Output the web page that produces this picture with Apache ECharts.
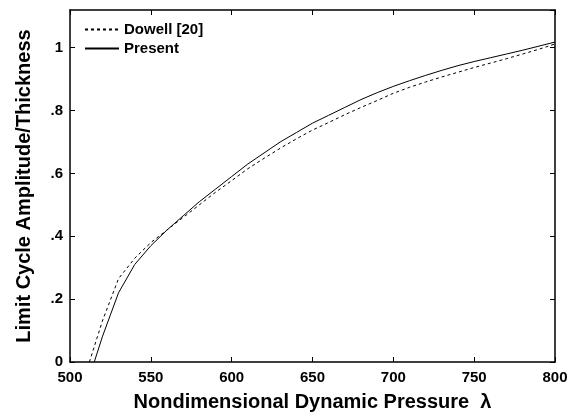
<!DOCTYPE html>
<html>
<head>
<meta charset="utf-8">
<script src="https://cdn.jsdelivr.net/npm/echarts@6/dist/echarts.min.js"></script>
<style>html,body{margin:0;padding:0;background:#fff}#c{width:577px;height:417px}</style>
</head>
<body>
<div id="c"></div>
<script>
const xTicks = [500, 550, 600, 650, 700, 750, 800];
const yTicks = [0, 0.2, 0.4, 0.6, 0.8, 1];

const presentX = [515, 520, 525, 530, 540, 550, 560, 570, 580, 590, 600, 610, 620, 630, 640, 650, 660, 670, 680, 690, 700, 710, 720, 730, 740, 750, 760, 770, 780, 790, 800];
const presentY = [0, 0.08, 0.15, 0.22, 0.31, 0.37, 0.42, 0.465, 0.51, 0.55, 0.59, 0.63, 0.665, 0.70, 0.73, 0.76, 0.785, 0.81, 0.835, 0.857, 0.877, 0.895, 0.912, 0.928, 0.943, 0.956, 0.968, 0.98, 0.992, 1.005, 1.018];

const dowellX = [512, 520, 530, 540, 550, 560, 570, 580, 590, 600, 610, 620, 630, 640, 650, 660, 670, 680, 690, 700, 710, 720, 730, 740, 750, 760, 770, 780, 790, 800];
const dowellY = [0, 0.13, 0.265, 0.33, 0.38, 0.42, 0.46, 0.50, 0.54, 0.577, 0.615, 0.648, 0.68, 0.71, 0.738, 0.762, 0.787, 0.81, 0.832, 0.855, 0.874, 0.891, 0.907, 0.922, 0.937, 0.951, 0.965, 0.98, 0.995, 1.012];

const zip = (xs, ys) => xs.map((x, i) => [x, ys[i]]);
const font = 'Liberation Sans, Arial, sans-serif';

function yFmt(v) {
  if (!yTicks.some(t => Math.abs(t - v) < 1e-6)) return '';
  const r = Math.round(v * 10) / 10;
  if (r === 0) return '0';
  if (r === 1) return '1';
  return String(r).replace('0.', '.');
}

const chart = echarts.init(document.getElementById('c'));
chart.setOption({
  animation: false,
  backgroundColor: '#fff',
  grid: { left: 70, right: 22, top: 10, bottom: 51 },
  legend: {
    orient: 'vertical', left: 79, top: 17,
    itemWidth: 34, itemHeight: 14, itemGap: 4,
    itemStyle: { opacity: 0 },
    textStyle: { fontFamily: font, fontWeight: 'bold', fontSize: 15, color: '#000' },
    data: ['Dowell [20]', 'Present']
  },
  xAxis: [{
    type: 'value', min: 500, max: 800, interval: 50,
    name: 'Nondimensional Dynamic Pressure  λ', nameLocation: 'middle', nameGap: 30,
    nameTextStyle: { fontFamily: font, fontWeight: 'bold', fontSize: 20, color: '#000' },
    axisLine: { show: true, onZero: false, lineStyle: { color: '#000', width: 1.5 } },
    axisTick: { show: true, inside: true, length: 5, lineStyle: { color: '#000' } },
    axisLabel: { fontFamily: font, fontWeight: 'bold', fontSize: 15, color: '#000', margin: 8 },
    splitLine: { show: false }
  }, {
    type: 'value', min: 500, max: 800, interval: 50, position: 'top',
    axisLine: { show: true, onZero: false, lineStyle: { color: '#000', width: 1.5 } },
    axisTick: { show: true, inside: true, length: 5, lineStyle: { color: '#000' } },
    axisLabel: { show: false }, splitLine: { show: false }
  }],
  yAxis: [{
    type: 'value', min: 0, max: 1.12, interval: 0.2,
    name: 'Limit Cycle Amplitude/Thickness', nameLocation: 'middle', nameGap: 36,
    nameTextStyle: { fontFamily: font, fontWeight: 'bold', fontSize: 20, color: '#000' },
    axisLine: { show: true, onZero: false, lineStyle: { color: '#000', width: 1.5 } },
    axisTick: { show: true, inside: true, length: 5, lineStyle: { color: '#000' } },
    axisLabel: { fontFamily: font, fontWeight: 'bold', fontSize: 15, color: '#000', margin: 7, formatter: yFmt, showMaxLabel: false },
    splitLine: { show: false }
  }, {
    type: 'value', min: 0, max: 1.12, interval: 0.2, position: 'right',
    axisLine: { show: true, onZero: false, lineStyle: { color: '#000', width: 1.5 } },
    axisTick: { show: true, inside: true, length: 5, lineStyle: { color: '#000' } },
    axisLabel: { show: false }, splitLine: { show: false }
  }],
  series: [{
    name: 'Dowell [20]', type: 'line', symbol: 'none', smooth: false,
    data: zip(dowellX, dowellY),
    lineStyle: { color: '#000', width: 1, type: [3, 3] },
    itemStyle: { color: '#000' }
  }, {
    name: 'Present', type: 'line', symbol: 'none', smooth: false,
    data: zip(presentX, presentY),
    lineStyle: { color: '#000', width: 1, type: 'solid' },
    itemStyle: { color: '#000' }
  }]
});
</script>
</body>
</html>
